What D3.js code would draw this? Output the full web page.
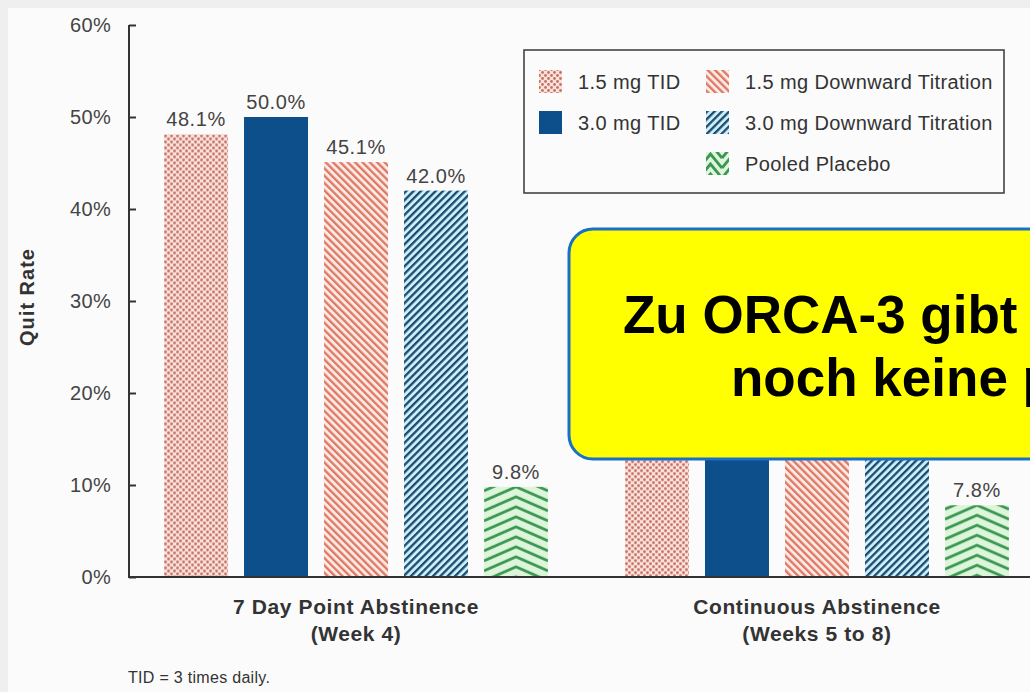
<!DOCTYPE html>
<html>
<head>
<meta charset="utf-8">
<script src="https://cdn.jsdelivr.net/npm/d3@7/dist/d3.min.js"></script>
<style>
  html, body { margin: 0; padding: 0; background: #efefef; overflow: hidden; }
  svg { display: block; font-family: Arial, "Liberation Sans", sans-serif; }
</style>
</head>
<body>
<svg id="chart" width="1030" height="692"></svg>
<script>
// data
const categories = ["7 Day Point Abstinence\n(Week 4)", "Continuous Abstinence\n(Weeks 5 to 8)"];
const series = ["1.5 mg TID", "3.0 mg TID", "1.5 mg Downward Titration", "3.0 mg Downward Titration", "Pooled Placebo"];
// quit rates in %, one array per category (continuous values are hidden under the note, estimated)
const week4Values = [48.1, 50.0, 45.1, 42.0, 9.8];
const continuousValues = [30.3, 32.6, 25.3, 23.2, 7.8];
const yTicks = [0, 10, 20, 30, 40, 50, 60];
const footnote = "TID = 3 times daily.";
const noteLines = ["Zu ORCA-3 gibt es", "noch keine publizierten Daten"];

const valuesByCategory = [week4Values, continuousValues];

const width = 1030, height = 692;
const svg = d3.select("#chart");

svg.append("rect")
  .attr("x", 8).attr("y", 8)
  .attr("width", width).attr("height", height)
  .attr("fill", "#fbfbfb");

const y = d3.scaleLinear().domain([0, 60]).range([577, 25]);

const x0 = d3.scaleBand()
  .domain(categories)
  .range([129, 1044])
  .paddingInner(0.167)
  .paddingOuter(0.076);

const x1 = d3.scaleBand()
  .domain(series)
  .range([0, x0.bandwidth()])
  .paddingInner(0.2)
  .paddingOuter(0);

// note box area (drawn last, on top of the chart)
const note = { x: 569, y: 229, w: 560, h: 230 };

const styles = {
  "1.5 mg TID": { kind: "dots", bg: "#fde2da", fg: "#c2746a" },
  "3.0 mg TID": { kind: "solid", bg: "#0d4f8b" },
  "1.5 mg Downward Titration": { kind: "stripe", bg: "#fde9e3", fg: "#de7864", angle: -45 },
  "3.0 mg Downward Titration": { kind: "stripe", bg: "#cdeefa", fg: "#1c4c6c", angle: 45 },
  "Pooled Placebo": { kind: "chevron", bg: "#ddf6db", fg: "#3a9650" }
};

const defs = svg.append("defs");

function makePattern(id, s, ox, oy, w) {
  if (s.kind === "solid") return s.bg;
  if (s.kind === "dots") {
    const p = defs.append("pattern").attr("id", id)
      .attr("patternUnits", "userSpaceOnUse")
      .attr("x", ox).attr("y", oy)
      .attr("width", 6).attr("height", 6);
    p.append("rect").attr("width", 6).attr("height", 6).attr("fill", s.bg);
    p.append("circle").attr("cx", 1.5).attr("cy", 1.5).attr("r", 1.45).attr("fill", s.fg);
    p.append("circle").attr("cx", 4.5).attr("cy", 4.5).attr("r", 1.45).attr("fill", s.fg);
  } else if (s.kind === "stripe") {
    const p = defs.append("pattern").attr("id", id)
      .attr("patternUnits", "userSpaceOnUse")
      .attr("width", 5.2).attr("height", 10)
      .attr("patternTransform", "rotate(" + s.angle + ")");
    p.append("rect").attr("width", 5.2).attr("height", 10).attr("fill", s.bg);
    p.append("rect").attr("x", 0).attr("width", 2.3).attr("height", 10).attr("fill", s.fg);
  } else if (s.kind === "chevron") {
    const p = defs.append("pattern").attr("id", id)
      .attr("patternUnits", "userSpaceOnUse")
      .attr("x", ox).attr("y", oy)
      .attr("width", w).attr("height", 10);
    p.append("rect").attr("width", w).attr("height", 10).attr("fill", s.bg);
    [-20, -10, 0, 10, 20].forEach(dy => {
      p.append("path")
        .attr("d", `M0,${dy + 14} L${w / 2},${dy} L${w},${dy + 14}`)
        .attr("fill", "none")
        .attr("stroke", s.fg)
        .attr("stroke-width", 2.8);
    });
  }
  return "url(#" + id + ")";
}

// bars
const bars = [];
categories.forEach((c, ci) => {
  series.forEach((s, si) => {
    bars.push({ cat: c, ser: s, value: valuesByCategory[ci][si], id: "p" + ci + "_" + si });
  });
});

svg.append("g")
  .selectAll("rect")
  .data(bars)
  .join("rect")
  .attr("x", d => x0(d.cat) + x1(d.ser))
  .attr("y", d => y(d.value))
  .attr("width", x1.bandwidth())
  .attr("height", d => y(0) - y(d.value))
  .attr("fill", d => makePattern(d.id, styles[d.ser], x0(d.cat) + x1(d.ser), y(d.value), x1.bandwidth()));

// value labels, except those hidden under the note box
const underNote = d => {
  const lx = x0(d.cat) + x1(d.ser);
  const ly = y(d.value) - 8;
  return lx + x1.bandwidth() > note.x && ly > note.y && ly - 16 < note.y + note.h;
};

svg.append("g")
  .selectAll("text")
  .data(bars.filter(d => !underNote(d)))
  .join("text")
  .attr("x", d => x0(d.cat) + x1(d.ser) + x1.bandwidth() / 2)
  .attr("y", d => y(d.value) - 8)
  .attr("text-anchor", "middle")
  .attr("font-size", 20)
  .attr("letter-spacing", 0.6)
  .attr("fill", "#444")
  .text(d => d.value.toFixed(1) + "%");

// y axis
const yAxis = svg.append("g")
  .attr("transform", "translate(129,0)")
  .call(d3.axisRight(y).tickValues(yTicks).tickSize(7).tickFormat(""));
yAxis.select(".domain").attr("stroke", "#333").attr("stroke-width", 2).attr("d", `M0,${y(60)}V${y(0)}`);
yAxis.selectAll(".tick line").attr("stroke", "#333").attr("stroke-width", 2);

svg.append("g")
  .selectAll("text")
  .data(yTicks)
  .join("text")
  .attr("x", 111)
  .attr("y", d => y(d))
  .attr("dy", "0.36em")
  .attr("text-anchor", "end")
  .attr("font-size", 20)
  .attr("letter-spacing", 0.3)
  .attr("fill", "#444")
  .text(d => d + "%");

// baseline
svg.append("line")
  .attr("x1", 128).attr("x2", width)
  .attr("y1", y(0)).attr("y2", y(0))
  .attr("stroke", "#333").attr("stroke-width", 2);

svg.append("text")
  .attr("transform", "translate(34,297) rotate(-90)")
  .attr("text-anchor", "middle")
  .attr("font-size", 20)
  .attr("letter-spacing", 1)
  .attr("font-weight", "bold")
  .attr("fill", "#333")
  .text("Quit Rate");

// category labels
categories.forEach(c => {
  const t = svg.append("text")
    .attr("text-anchor", "middle")
    .attr("font-size", 21)
    .attr("letter-spacing", 0.6)
    .attr("font-weight", "bold")
    .attr("fill", "#333");
  c.split("\n").forEach((line, i) => {
    t.append("tspan")
      .attr("x", x0(c) + x0.bandwidth() / 2)
      .attr("y", 614 + i * 27)
      .text(line);
  });
});

svg.append("text")
  .attr("x", 128).attr("y", 683)
  .attr("font-size", 16)
  .attr("letter-spacing", 0.3)
  .attr("fill", "#333")
  .text(footnote);

// legend
const legendCol = [0, 0, 1, 1, 1];
const legendRow = [0, 1, 0, 1, 2];
const legend = svg.append("g").attr("transform", "translate(524,50)");
legend.append("rect")
  .attr("width", 480).attr("height", 143)
  .attr("fill", "none")
  .attr("stroke", "#444")
  .attr("stroke-width", 1.6);

series.forEach((s, i) => {
  const g = legend.append("g")
    .attr("transform", `translate(${15 + legendCol[i] * 167},${20 + legendRow[i] * 41})`);
  g.append("rect")
    .attr("width", 23).attr("height", 23)
    .attr("fill", makePattern("lg" + i, styles[s], 539 + legendCol[i] * 167, 70 + legendRow[i] * 41, 23));
  g.append("text")
    .attr("x", 39).attr("y", 12)
    .attr("dy", "0.35em")
    .attr("font-size", 20)
    .attr("letter-spacing", 0.4)
    .attr("fill", "#333")
    .text(s);
});

// note box on top
svg.append("rect")
  .attr("x", note.x).attr("y", note.y)
  .attr("width", note.w).attr("height", note.h)
  .attr("rx", 24)
  .attr("fill", "#ffff00")
  .attr("stroke", "#1a6fc6")
  .attr("stroke-width", 3);

noteLines.forEach((line, i) => {
  svg.append("text")
    .attr("x", i === 0 ? 623 : 731)
    .attr("y", 333 + i * 63)
    .attr("font-size", 53)
    .attr("font-weight", "bold")
    .attr("fill", "#000")
    .text(line);
});
</script>
</body>
</html>
